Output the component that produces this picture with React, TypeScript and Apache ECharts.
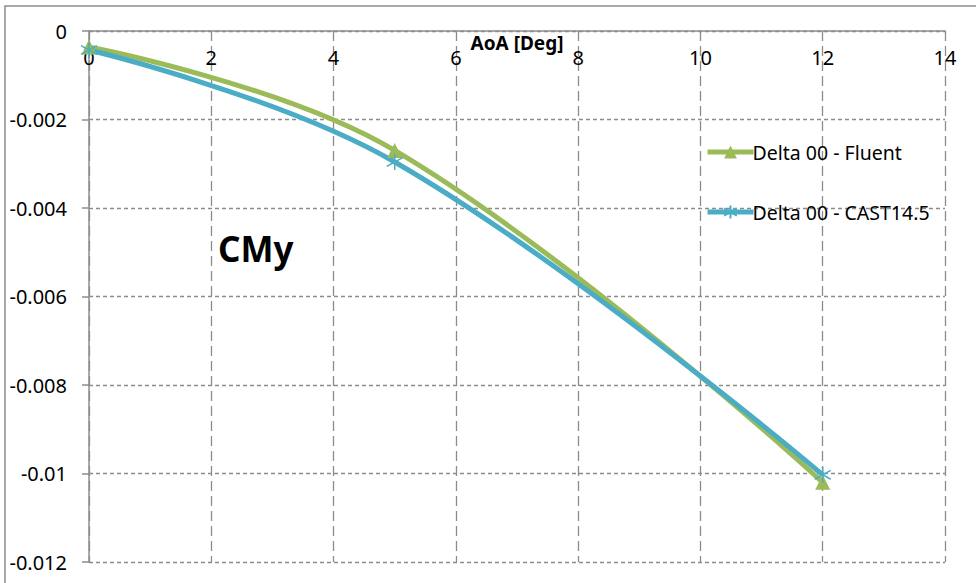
import React, { useEffect, useRef } from "react";
import * as echarts from "echarts";

const seriesNames = ["Delta 00 - Fluent", "Delta 00 - CAST14.5"];
const aoa = [0, 5, 12];
const fluentValues = [-0.00036, -0.0027, -0.0102];
const castValues = [-0.00043, -0.00296, -0.01003];
const chartTitle = "CMy";
const xAxisTitle = "AoA [Deg]";

const FONT = "'Noto Sans', 'Open Sans', sans-serif";
const asterisk =
  "path://M0,-10L0,10M-9,-5.5L9,5.5M-9,5.5L9,-5.5";

export default function App() {
  const ref = useRef<HTMLDivElement>(null);
  useEffect(() => {
    if (!ref.current) return;
    const chart = echarts.init(ref.current, null, { renderer: "svg" });
    chart.setOption({
      animation: false,
      backgroundColor: "#fff",
      title: {
        text: chartTitle,
        left: 213,
        top: 226,
        textStyle: { fontFamily: FONT, fontSize: 35, fontWeight: "bold", color: "#000" },
      },
      graphic: [
        {
          type: "rect",
          shape: { x: 5, y: 6, width: 1000, height: 600 },
          style: { fill: "none", stroke: "#8c8c8c", lineWidth: 1.5 },
          silent: true,
        },
      ],
      legend: {
        orient: "vertical",
        left: 700,
        top: 137,
        itemGap: 40,
        itemWidth: 46,
        itemHeight: 16,
        lineStyle: { width: 5 },
        textStyle: { fontFamily: FONT, fontSize: 19.5, color: "#000", padding: [0, 0, 0, -6] },
        data: seriesNames,
      },
      grid: { left: 89, right: 31, top: 31, bottom: 21, containLabel: false },
      xAxis: {
        type: "value",
        position: "top",
        min: 0,
        max: 14,
        interval: 2,
        name: xAxisTitle,
        nameLocation: "middle",
        nameGap: -21,
        nameMoveOverlap: false,
        nameTextStyle: { fontFamily: FONT, fontSize: 19, fontWeight: "bold", color: "#000" },
        axisLine: { onZero: false, lineStyle: { color: "#8c8c8c", width: 1.5 } },
        axisTick: { show: false },
        axisLabel: {
          inside: true,
          margin: 16,
          fontFamily: FONT,
          fontSize: 20,
          color: "#000",
        },
        splitLine: {
          show: true,
          lineStyle: { color: "#8c8c8c", width: 1.3, type: [10, 5] },
        },
      },
      yAxis: {
        type: "value",
        min: -0.012,
        max: 0,
        interval: 0.002,
        axisLine: { show: true, onZero: false, lineStyle: { color: "#8c8c8c", width: 1.5 } },
        axisTick: { show: true, length: 7, lineStyle: { color: "#8c8c8c", width: 1.5 } },
        axisLabel: { margin: 22, fontFamily: FONT, fontSize: 20, color: "#000" },
        splitLine: {
          show: true,
          lineStyle: { color: "#8c8c8c", width: 1.3, type: [4, 3] },
        },
      },
      series: [
        {
          name: seriesNames[0],
          type: "line",
          smooth: 0.4,
          data: aoa.map((x, i) => [x, fluentValues[i]]),
          symbol: "triangle",
          symbolSize: 15,
          lineStyle: { color: "#9BBB59", width: 5 },
          itemStyle: { color: "#9BBB59" },
        },
        {
          name: seriesNames[1],
          type: "line",
          smooth: 0.4,
          data: aoa.map((x, i) => [x, castValues[i]]),
          symbol: asterisk,
          symbolSize: 16,
          lineStyle: { color: "#4BACC6", width: 5 },
          itemStyle: { color: "#4BACC6", borderColor: "#4BACC6", borderWidth: 1.5 },
        },
      ],
    });
    return () => chart.dispose();
  }, []);
  return (
    <div
      ref={ref}
      style={{ position: "fixed", left: 0, top: 0, width: 976, height: 583 }}
    />
  );
}
